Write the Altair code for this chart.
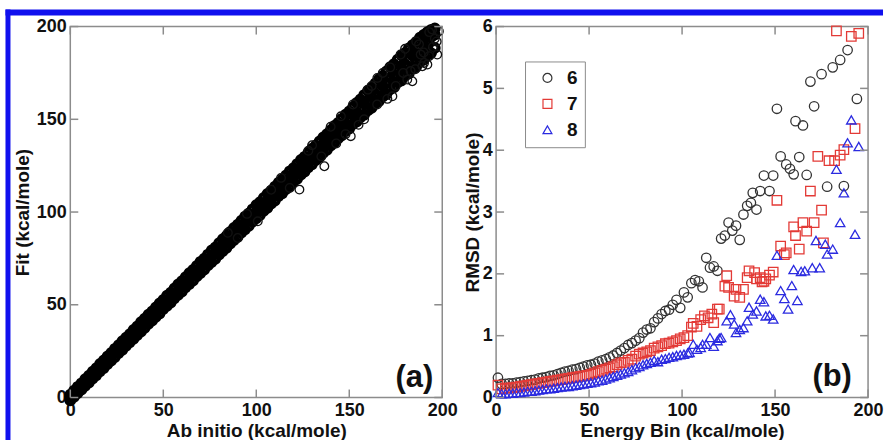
import altair as alt
import pandas as pd

# ---------------- Panel (a): fit vs ab initio ----------------
ab_initio = [0, 2, 4, 6, 8, 10, 12, 14, 16, 18,
             20, 22, 24, 26, 28, 30, 32, 34, 36, 38,
             40, 42, 44, 46, 48, 50, 52, 54, 56, 58,
             60, 62, 64, 66, 68, 70, 72, 74, 76, 78,
             80, 82, 84, 86, 88, 90, 92, 94, 96, 98,
             100, 102, 104, 106, 108, 110, 112, 114, 116, 118,
             120, 122, 124, 126, 128, 130, 132, 134, 136, 138,
             140, 142, 144, 146, 148, 150, 152, 154, 156, 158,
             160, 162, 164, 166, 168, 170, 172, 174, 176, 178,
             180, 182, 184, 186, 188, 190, 192, 194, 196]
# fit - ab initio, read as the lower edge, centre and upper edge of the dense band
dev_lower = [-1.6, -1.7, -1.6, -1.8, -1.7, -1.9, -1.8, -2.0, -1.9, -2.1,
             -2.0, -2.1, -2.2, -2.0, -2.3, -2.1, -2.2, -2.4, -2.3, -2.5,
             -2.4, -2.3, -2.6, -2.5, -2.7, -2.4, -2.6, -2.8, -2.5, -2.7,
             -2.9, -2.6, -2.8, -3.0, -2.7, -2.9, -3.1, -2.8, -3.0, -3.2,
             -2.9, -3.1, -3.3, -3.0, -3.2, -3.4, -3.1, -3.3, -3.5, -3.2,
             -3.4, -3.6, -3.3, -3.7, -3.5, -3.8, -3.4, -3.9, -3.6, -4.0,
             -3.7, -4.1, -3.8, -4.2, -3.9, -4.3, -4.0, -4.4, -4.1, -4.5,
             -4.2, -4.6, -4.3, -4.7, -4.4, -5.0, -4.6, -5.3, -4.9, -5.6,
             -5.2, -5.9, -5.4, -6.2, -5.7, -6.5, -5.9, -6.8, -6.1, -7.1,
             -6.4, -7.4, -6.7, -7.7, -7.0, -8.0, -7.2, -8.3, -7.5]
dev_center = [0.2, -0.1, 0.3, 0.0, -0.2, 0.1, 0.3, -0.1, 0.2, 0.0,
              -0.3, 0.2, 0.1, -0.2, 0.3, 0.0, -0.1, 0.2, -0.3, 0.1,
              0.3, -0.2, 0.0, 0.2, -0.1, 0.3, -0.3, 0.1, 0.2, -0.2,
              0.0, 0.3, -0.1, 0.2, -0.3, 0.1, 0.0, -0.2, 0.3, -0.1,
              0.2, 0.0, -0.3, 0.1, 0.3, -0.2, 0.0, 0.2, -0.1, 0.3,
              -0.3, 0.1, 0.2, -0.2, 0.0, 0.3, -0.1, 0.2, -0.3, 0.1,
              0.0, -0.2, 0.3, -0.1, 0.2, 0.0, -0.3, 0.1, 0.3, -0.2,
              0.0, 0.2, -0.1, 0.3, -0.3, 0.1, 0.2, -0.2, 0.0, 0.3,
              -0.1, 0.2, -0.3, 0.1, 0.0, -0.2, 0.3, -0.1, 0.2, 0.0,
              -0.3, 0.1, 0.3, -0.2, 0.0, 0.2, -0.1, 0.3, -0.3]
dev_upper = [1.6, 1.7, 1.8, 1.7, 1.9, 1.8, 2.0, 1.9, 2.1, 2.0,
             2.2, 2.1, 2.3, 2.2, 2.4, 2.3, 2.2, 2.5, 2.4, 2.6,
             2.5, 2.7, 2.4, 2.6, 2.8, 2.7, 2.9, 2.6, 2.8, 3.0,
             2.7, 2.9, 3.1, 2.8, 3.0, 3.2, 2.9, 3.1, 3.3, 3.0,
             3.2, 3.4, 3.1, 3.3, 3.5, 3.2, 3.4, 3.6, 3.3, 3.5,
             3.7, 3.4, 3.6, 3.8, 3.5, 3.7, 3.9, 3.6, 3.8, 4.0,
             3.7, 3.9, 4.1, 3.8, 4.0, 4.2, 3.9, 4.1, 4.3, 4.0,
             4.2, 4.4, 4.1, 4.3, 4.5, 4.3, 4.6, 4.9, 4.7, 5.1,
             5.3, 5.0, 5.4, 5.7, 5.4, 5.8, 6.1, 5.8, 6.2, 6.5,
             5.8, 6.2, 6.0, 5.8, 6.0, 5.5, 5.0, 4.2, 3.0]
# scattered points outside the band
outlier_ab = [84.7, 90.0, 95.0, 100.8, 108.0, 113.3, 118.0, 123.2, 128.0, 130.0,
              135.0, 136.6, 140.0, 143.0, 145.5, 148.0, 150.8, 152.0, 155.0, 158.0,
              160.0, 162.0, 165.0, 165.1, 168.0, 170.5, 172.0, 173.2, 175.0, 177.6,
              179.0, 180.0, 181.2, 183.0, 183.9, 185.5, 186.0, 187.5, 188.4, 189.3,
              190.0, 190.2, 192.0, 192.9, 193.0, 194.6, 195.0, 196.0, 197.0, 197.3, 198.2]
outlier_fit = [88.8, 86.0, 99.0, 95.0, 112.0, 118.4, 113.0, 112.1, 133.0, 136.0,
               130.0, 124.7, 146.0, 137.0, 151.6, 142.0, 140.9, 158.0, 147.0, 150.0,
               166.0, 168.0, 158.0, 172.3, 175.0, 161.0, 178.0, 162.4, 168.0, 184.9,
               175.0, 188.0, 171.4, 176.0, 170.5, 177.0, 192.0, 190.4, 184.9, 178.6,
               186.0, 180.4, 179.5, 184.0, 197.0, 198.4, 189.0, 193.5, 192.0, 184.9, 197.5]

# ---------------- Panel (b): RMSD vs energy bin ----------------
energy_6 = [1, 3, 5, 7, 9, 11, 13, 15, 17, 19, 21, 23, 25, 27, 29, 31, 33, 35, 37, 39,
            41, 43, 45, 47, 49, 51, 53, 55, 57, 59, 61, 63, 65, 67, 69, 71, 73, 75, 77, 79,
            81, 83, 85, 87, 89, 91, 93, 95, 97, 99, 101, 103, 105, 107, 109, 111, 113, 115, 117, 119,
            121, 123, 125, 127, 129, 131, 133, 135, 137,
            138, 140, 142, 144, 147, 149, 151, 153, 156, 158, 160, 161, 163, 165, 167, 169, 171,
            175, 178, 181, 185, 187, 189, 194]
rmsd_6 = [0.32, 0.22, 0.22, 0.23, 0.23, 0.24, 0.25, 0.26, 0.27, 0.28,
          0.29, 0.31, 0.32, 0.33, 0.35, 0.36, 0.38, 0.40, 0.42, 0.43,
          0.45, 0.46, 0.48, 0.50, 0.52, 0.53, 0.55, 0.58, 0.60, 0.62,
          0.65, 0.68, 0.72, 0.76, 0.80, 0.85, 0.88, 0.92, 0.96, 1.05,
          1.10, 1.12, 1.22, 1.28, 1.35, 1.40, 1.42, 1.50, 1.58, 1.45,
          1.70, 1.62, 1.85, 1.90, 1.88, 1.78, 2.26, 2.10, 2.12, 2.05,
          2.57, 2.62, 2.83, 2.70, 2.78, 2.55, 2.96, 3.10, 3.15,
          3.31, 3.04, 3.34, 3.59, 3.34, 3.59, 4.67, 3.90, 3.77, 3.70, 3.61, 4.47, 3.89, 4.40, 3.60, 5.11, 4.71,
          5.23, 3.41, 5.34, 5.46, 3.42, 5.62, 4.83]
energy_7 = [1, 3, 5, 7, 9, 11, 13, 15, 17, 19, 21, 23, 25, 27, 29, 31, 33, 35, 37, 39,
            41, 43, 45, 47, 49, 51, 53, 55, 57, 59, 61, 63, 65, 67, 69, 71, 73, 75, 77, 79,
            81, 83, 85, 87, 89, 91, 93, 95, 97, 99, 101, 103,
            105, 106, 108, 110, 112, 114, 116, 117, 119, 120,
            123, 124, 125, 128, 129, 131, 133, 135, 136, 139,
            140, 142, 143, 144, 145, 147, 149,
            151, 153, 155, 156, 160, 161, 163, 165, 167, 169,
            171, 173, 175, 176, 179, 182, 183, 185, 187, 191, 193, 195]
rmsd_7 = [0.20, 0.14, 0.15, 0.15, 0.16, 0.17, 0.18, 0.19, 0.20, 0.21,
          0.22, 0.23, 0.24, 0.25, 0.26, 0.27, 0.28, 0.29, 0.30, 0.31,
          0.32, 0.33, 0.34, 0.35, 0.36, 0.38, 0.40, 0.42, 0.44, 0.46,
          0.48, 0.50, 0.53, 0.56, 0.57, 0.60, 0.62, 0.67, 0.70, 0.72,
          0.74, 0.76, 0.80, 0.82, 0.84, 0.87, 0.88, 0.90, 0.92, 0.95,
          0.97, 1.00,
          1.14, 1.20, 1.15, 1.26, 1.32, 1.29, 1.35, 1.21, 1.43, 1.43,
          1.80, 1.97, 1.78, 1.64, 1.75, 1.62, 1.75, 1.94, 2.05, 2.02,
          1.92, 1.94, 1.87, 1.88, 1.92, 1.98, 2.03,
          3.19, 2.45, 2.31, 2.34, 2.76, 2.62, 2.40, 2.83, 2.69, 3.34,
          2.83, 3.90, 3.03, 2.50, 3.83, 3.83, 5.93, 3.92, 4.01, 5.84, 4.35, 5.89]
energy_8 = [1, 3, 5, 7, 9, 11, 13, 15, 17, 19, 21, 23, 25, 27, 29, 31, 33, 35, 37, 39,
            41, 43, 45, 47, 49, 51, 53, 55, 57, 59, 61, 63, 65, 67, 69, 71, 73, 75, 77, 79,
            81, 83, 85, 87, 89, 91, 93, 95, 97, 99, 101, 103,
            104, 106, 108, 110, 111, 113, 115, 117, 119, 120,
            121, 124, 126, 128, 129, 131, 133, 135, 136, 138,
            140, 142, 144, 145, 147, 149,
            151, 153, 155, 157, 159, 160, 162, 164, 166, 170,
            172, 174, 177, 178, 181, 183, 185, 187, 189, 191, 193, 195]
rmsd_8 = [0.08, 0.06, 0.06, 0.07, 0.07, 0.08, 0.08, 0.09, 0.10, 0.10,
          0.11, 0.12, 0.13, 0.14, 0.14, 0.15, 0.16, 0.17, 0.18, 0.18,
          0.19, 0.20, 0.21, 0.22, 0.23, 0.24, 0.25, 0.27, 0.28, 0.30,
          0.32, 0.34, 0.36, 0.38, 0.40, 0.42, 0.45, 0.48, 0.50, 0.53,
          0.55, 0.57, 0.60, 0.58, 0.62, 0.63, 0.65, 0.66, 0.68, 0.69,
          0.70, 0.72,
          0.73, 0.86, 0.78, 0.81, 0.86, 0.86, 0.97, 0.83, 0.92, 0.96,
          0.97, 1.24, 1.34, 1.19, 1.05, 1.10, 1.13, 1.24, 1.46, 1.35,
          1.40, 1.59, 1.55, 1.32, 1.33, 1.27,
          2.30, 1.73, 1.60, 1.43, 1.81, 2.07, 1.57, 2.04, 2.05, 2.10,
          2.54, 2.10, 2.48, 2.32, 2.40, 3.69, 2.83, 3.31, 4.12, 4.49, 2.64, 4.06]

series_names = ["6", "7", "8"]
series_colors = ["#333333", "#e33a36", "#2b2be0"]
series_shapes = ["circle", "square", "triangle-up"]

x_ticks = [0, 50, 100, 150, 200]
y_ticks_a = [0, 50, 100, 150, 200]
y_ticks_b = [0, 1, 2, 3, 4, 5, 6]
panel_labels = ["(a)", "(b)"]

# ---------------- tables ----------------
band_rows = []
for i, ab in enumerate(ab_initio):
    for dev in (dev_lower[i], dev_center[i], dev_upper[i]):
        band_rows.append({"ab": ab, "fit": round(ab + dev, 2)})
df_band = pd.DataFrame(band_rows)
df_out = pd.DataFrame({"ab": outlier_ab, "fit": outlier_fit})

df_b = pd.concat([
    pd.DataFrame({"E": energy_6, "R": rmsd_6, "s": "6"}),
    pd.DataFrame({"E": energy_7, "R": rmsd_7, "s": "7"}),
    pd.DataFrame({"E": energy_8, "R": rmsd_8, "s": "8"}),
], ignore_index=True)

W, H = 373, 372
TICK = 8
TICK_COLOR = "#8c8c8c"
FONT = "Liberation Sans"
one = pd.DataFrame({"d": [0]})

def axis(title, values, title_pad=4):
    return alt.Axis(title=title, values=values, format="d", labelFlush=False,
                    labelOverlap=False, ticks=False, domain=False, grid=False,
                    titlePadding=title_pad)

def tick_layers(xs, ys, xt, yt, xax, yax):
    dx = pd.DataFrame({"t": xt})
    dy = pd.DataFrame({"t": yt})
    r = dict(color=TICK_COLOR, strokeWidth=1.5)
    xe = alt.X("t:Q", scale=xs, axis=xax)
    ye = alt.Y("t:Q", scale=ys, axis=yax)
    return [
        alt.Chart(dx).mark_rule(**r).encode(x=xe, y=alt.value(H - TICK), y2=alt.value(H)),
        alt.Chart(dx).mark_rule(**r).encode(x=xe, y=alt.value(0), y2=alt.value(TICK)),
        alt.Chart(dy).mark_rule(**r).encode(y=ye, x=alt.value(0), x2=alt.value(TICK)),
        alt.Chart(dy).mark_rule(**r).encode(y=ye, x=alt.value(W - TICK), x2=alt.value(W)),
    ]

def panel_label(i, x, y):
    return alt.Chart(pd.DataFrame({"lab": [panel_labels[i]]})).mark_text(
        fontSize=31, fontWeight="bold", font=FONT, color="#111111",
        align="center", baseline="middle"
    ).encode(x=alt.value(x), y=alt.value(y), text="lab:N")

# ---------------- panel (a) ----------------
xs_a = alt.Scale(domain=[0, 200], nice=False, zero=False)
ys_a = alt.Scale(domain=[0, 200], nice=False, zero=False)
xax_a = axis("Ab initio (kcal/mole)", x_ticks, 2)
yax_a = axis("Fit (kcal/mole)", y_ticks_a, 4)

band = alt.Chart(df_band).mark_point(
    shape="circle", filled=False, color="#000000", size=60, strokeWidth=4, opacity=1
).encode(
    x=alt.X("ab:Q", scale=xs_a, axis=xax_a),
    y=alt.Y("fit:Q", scale=ys_a, axis=yax_a),
)
outl = alt.Chart(df_out).mark_point(
    shape="circle", filled=False, color="#111111", size=75, strokeWidth=1.3, opacity=1
).encode(
    x=alt.X("ab:Q", scale=xs_a, axis=xax_a),
    y=alt.Y("fit:Q", scale=ys_a, axis=yax_a),
)
blue_top = alt.Chart(one).mark_rule(color="#1010ee", strokeWidth=6).encode(
    x=alt.value(-65), x2=alt.value(815), y=alt.value(-14))
blue_left = alt.Chart(one).mark_rule(color="#1010ee", strokeWidth=5).encode(
    x=alt.value(-62.5), y=alt.value(-17), y2=alt.value(420))

panel_a = alt.layer(
    band, outl, *tick_layers(xs_a, ys_a, x_ticks, y_ticks_a, xax_a, yax_a),
    panel_label(0, 345, 352), blue_top, blue_left
).properties(width=W, height=H)

# ---------------- panel (b) ----------------
xs_b = alt.Scale(domain=[0, 200], nice=False, zero=False)
ys_b = alt.Scale(domain=[0, 6], nice=False, zero=False)
xax_b = axis("Energy Bin (kcal/mole)", x_ticks, 2)
yax_b = axis("RMSD (kcal/mole)", y_ticks_b, 0)
leg = alt.Legend(orient="none", legendX=456, legendY=35, title=None,
                 strokeColor="#8c8c8c", fillColor="white", padding=7,
                 symbolSize=80, symbolStrokeWidth=1.2, labelFontSize=19,
                 labelFontWeight="bold", labelFont=FONT, labelColor="#111111",
                 rowPadding=6, symbolOffset=6, labelOffset=10)

pts = alt.Chart(df_b).mark_point(filled=False, size=90, strokeWidth=1.3, opacity=1).encode(
    x=alt.X("E:Q", scale=xs_b, axis=xax_b),
    y=alt.Y("R:Q", scale=ys_b, axis=yax_b),
    color=alt.Color("s:N", scale=alt.Scale(domain=series_names, range=series_colors), legend=leg),
    shape=alt.Shape("s:N", scale=alt.Scale(domain=series_names, range=series_shapes), legend=leg),
)

panel_b = alt.layer(
    pts, *tick_layers(xs_b, ys_b, x_ticks, y_ticks_b, xax_b, yax_b), panel_label(1, 337, 351)
).properties(width=W, height=H)

chart = alt.hconcat(panel_a, panel_b, spacing=54, bounds="flush").properties(
    padding={"left": 1.5, "top": 5, "right": 0, "bottom": 0},
    background="white",
).configure_view(
    stroke="#8c8c8c", strokeWidth=1.5
).configure_axis(
    labelFont=FONT, labelFontSize=18, labelFontWeight="bold", labelColor="#111111",
    titleFont=FONT, titleFontSize=19, titleFontWeight="bold", titleColor="#111111",
    labelPadding=4,
)

chart.save("out.html", embed_options={"renderer": "svg", "actions": False})
